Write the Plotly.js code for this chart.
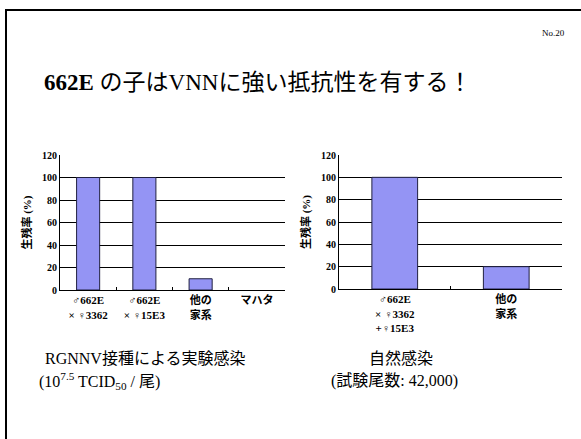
<!DOCTYPE html>
<html><head><meta charset="utf-8">
<script src="https://cdn.plot.ly/plotly-3.0.1.min.js"></script>
<style>html,body{margin:0;padding:0;background:#fff}#c{width:581px;height:439px}</style>
</head><body><div id="c"></div>
<script>
const leftCategories = ['♂662E<br>× ♀3362', '♂662E<br>× ♀15E3', '他の<br>家系', 'マハタ'];
const leftValues = [100, 100, 10, 0];
const rightCategories = ['♂662E<br>× ♀3362<br>+♀15E3', '他の<br>家系'];
const rightValues = [100, 20];
const yTickVals = [0, 20, 40, 60, 80, 100, 120];
const yAxisTitle = '生残率 (%)';
const slideTitle = '<b>662E</b> の子はVNNに強い抵抗性を有する！';
const pageNo = 'No.20';
const leftCaption1 = 'RGNNV接種による実験感染';
const leftCaption2 = '(10<sup>7.5</sup> TCID<sub>50</sub> / 尾)';
const rightCaption1 = '自然感染';
const rightCaption2 = '(試験尾数: 42,000)';

const W = 581, H = 439;
const px = x => x / W;
const py = y => 1 - y / H;
const serif = '"Liberation Serif", "Times New Roman", "Noto Sans CJK JP", serif';
const barColor = '#9494f4';

const traces = [
  {type: 'bar', x: leftCategories, y: leftValues, xaxis: 'x', yaxis: 'y',
   marker: {color: barColor, line: {color: '#202040', width: leftValues.map(v => v > 0 ? 1 : 0)}}, hoverinfo: 'none'},
  {type: 'bar', x: rightCategories, y: rightValues, xaxis: 'x2', yaxis: 'y2',
   marker: {color: barColor, line: {color: '#202040', width: 1}}, hoverinfo: 'none'}
];

const xBase = {
  type: 'category', showgrid: false, showline: true, linecolor: '#000', linewidth: 1,
  ticks: 'inside', tickson: 'boundaries', ticklen: 3, tickcolor: '#000',
  tickfont: {family: serif, size: 11, color: '#000', weight: 'bold'}, zeroline: false,
  fixedrange: true
};
const yBase = {
  range: [0, 120], tickvals: yTickVals, showgrid: true, gridcolor: '#000', gridwidth: 1,
  showline: true, linecolor: '#000', linewidth: 1, zeroline: false, ticks: '',
  tickfont: {family: serif, size: 10, color: '#000', weight: 'bold'},
  title: {text: yAxisTitle, font: {family: serif, size: 11, color: '#000', weight: 'bold'}, standoff: 8},
  fixedrange: true
};

function ann(text, x, y, size, extra) {
  return Object.assign({text: text, xref: 'paper', yref: 'paper', x: px(x), y: py(y),
    xanchor: 'center', yanchor: 'middle', showarrow: false,
    font: {family: serif, size: size, color: '#000'}}, extra || {});
}

const layout = {
  width: W, height: H, margin: {l: 0, r: 0, t: 0, b: 0},
  paper_bgcolor: '#fff', plot_bgcolor: '#fff', showlegend: false, bargap: 0.59,
  xaxis: Object.assign({}, xBase, {domain: [px(60), px(285)], anchor: 'y'}),
  yaxis: Object.assign({}, yBase, {domain: [py(290), py(155)], anchor: 'x'}),
  xaxis2: Object.assign({}, xBase, {domain: [px(339), px(562)], anchor: 'y2'}),
  yaxis2: Object.assign({}, yBase, {domain: [py(289), py(155)], anchor: 'x2'}),
  shapes: [
    {type: 'line', xref: 'paper', yref: 'paper', x0: px(6), x1: px(6), y0: py(9), y1: py(445), line: {color: '#000', width: 2}},
    {type: 'line', xref: 'paper', yref: 'paper', x0: px(5), x1: px(590), y0: py(10), y1: py(10), line: {color: '#000', width: 2}}
  ],
  annotations: [
    ann(slideTitle, 257, 82, 23),
    ann(pageNo, 553, 33, 9),
    ann(leftCaption1, 145, 358, 16),
    ann(leftCaption2, 37, 381, 16, {xanchor: 'left'}),
    ann(rightCaption1, 401, 358, 16),
    ann(rightCaption2, 394, 381, 16)
  ]
};

Plotly.newPlot('c', traces, layout, {displayModeBar: false, staticPlot: true});
</script>
</body></html>
